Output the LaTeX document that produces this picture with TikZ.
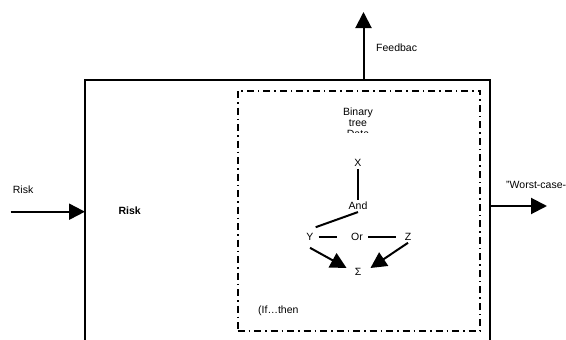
\documentclass[tikz,border=0pt]{standalone}
\usepackage{fontspec}
\setmainfont{Liberation Sans}
\usetikzlibrary{arrows.meta}
\begin{document}
\begin{tikzpicture}[x=1pt,y=-1pt,
    lbl/.style={inner sep=0pt,anchor=west,font=\fontsize{10.5}{11.2}\selectfont},
    treenode/.style={inner sep=2pt,font=\fontsize{10.5}{11.2}\selectfont},
    treeline/.style={line width=2pt},
    bigarrow/.style={line width=2pt,-{Triangle[length=16pt,width=16pt]}},
    dashdotbox/.style={draw,line width=2pt,inner sep=0pt,outer sep=0pt,
        dash pattern=on 7pt off 4pt on 1.5pt off 4pt}]
            \useasboundingbox (0,0) rectangle (566,340);
            \clip (0,0) rectangle (566,340);

            % Process box and the inner dash-dot frame
            \node (proc) [draw,line width=1.8pt,inner sep=0pt,outer sep=0pt,
                minimum width=405pt,minimum height=290pt] at (287.5,225) {};
            \node (frame) [dashdotbox,minimum width=242.5pt,minimum height=240.5pt]
                at (358.75,210.75) {};

            % Input: Risk
            \coordinate (riskin) at (10.7,211.7);
            \draw [bigarrow] (riskin) -- (riskin -| proc.west);
            \node (risklbl) [lbl] at (12.7,190) {Risk};
            \node (riskbox) [lbl,font=\fontsize{10.5}{11.2}\selectfont\bfseries] at (118.3,210.7) {Risk};

            % Output: Feedback
            \coordinate (fbtip) at (363.5,12);
            \draw [bigarrow] (fbtip |- proc.north) -- (fbtip);
            \node (fblbl) [lbl] at (376,47.5) {Feedbac};

            % Output: worst case
            \coordinate (wcout) at (547,206);
            \draw [bigarrow] (wcout -| proc.east) -- (wcout);
            \node (wclbl) [lbl] at (506,185) {"Worst-case-};

            % Title of the frame, cut off below
            \begin{scope}
                \clip (300,100) rectangle (420,132.5);
                \node (title) [lbl,anchor=base,align=center] at (358,137.4) {Binary\\tree\\Data};
            \end{scope}

            % Tree nodes
            \node (x) [treenode] at (358,163) {X};
            \node (and) [treenode] at (358,206) {And};
            \node (y) [treenode] at (310,237) {Y};
            \node (or) [treenode] at (357,237) {Or};
            \node (z) [treenode] at (408,237) {Z};
            \node (sum) [treenode] at (358,272) {Σ};

            % Tree edges
            \draw [treeline] (x) -- (and);
            \draw [treeline] (and.south) -- ([yshift=4pt]y.north east);
            \draw [treeline,shorten <=3pt,shorten >=12pt] (y) -- (or);
            \draw [treeline,shorten <=3pt,shorten >=7pt] (or) -- (z);
            \draw [bigarrow] ([yshift=-5pt]y.south) -- ([xshift=-6pt,yshift=4pt]sum.west);
            \draw [bigarrow] (z.south) -- ([xshift=7pt,yshift=4pt]sum.east);

            % Note at the bottom of the frame
            \node (ifthen) [lbl] at (258,311) {(If…then};
\end{tikzpicture}
\end{document}
